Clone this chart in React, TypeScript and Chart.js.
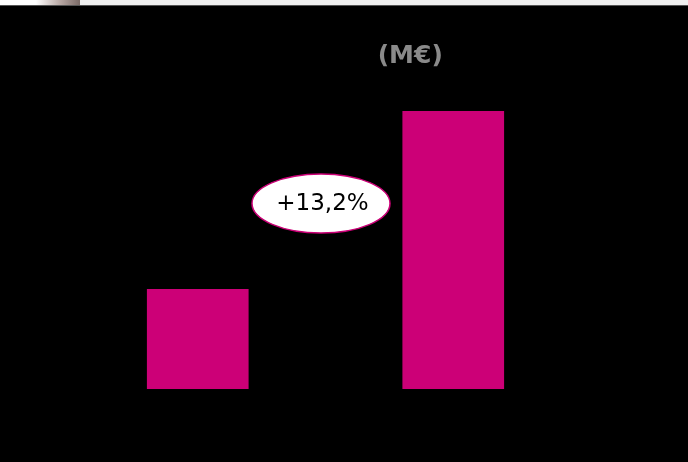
import React, { useEffect, useRef } from "react";
import { Chart, registerables } from "chart.js";

Chart.register(...registerables);

const categories: string[] = ["Année N-1", "Année N"];
const values: number[] = [100, 113.2];
const growthLabel = "+13,2%";
const unitLabel = "(M€)";

const BAR_COLOR = "#cc0077";

const overlayPlugin = {
  id: "overlay",
  afterDraw(chart: any) {
    const ctx = chart.ctx as CanvasRenderingContext2D;
    const x = chart.scales.x;
    const y = chart.scales.y;
    const x0 = x.getPixelForValue(0);
    const x1 = x.getPixelForValue(1);
    const cx = (x0 + x1) / 2 - 4.5;
    const cy = y.getPixelForValue(values[0]) - 85.5;
    ctx.save();
    ctx.beginPath();
    ctx.ellipse(cx, cy, 69, 29.5, 0, 0, Math.PI * 2);
    ctx.fillStyle = "#ffffff";
    ctx.fill();
    ctx.lineWidth = 1.5;
    ctx.strokeStyle = BAR_COLOR;
    ctx.stroke();
    ctx.fillStyle = "#000000";
    ctx.font = "23px 'DejaVu Sans'";
    ctx.textAlign = "center";
    ctx.textBaseline = "middle";
    ctx.fillText(growthLabel, cx + 1.5, cy + 1);
    ctx.fillStyle = "#8a8a8a";
    ctx.font = "bold 25px 'DejaVu Sans'";
    ctx.fillText(unitLabel, x1 - 43, 56);
    ctx.restore();
  },
};

export default function App() {
  const ref = useRef<HTMLCanvasElement | null>(null);
  useEffect(() => {
    if (!ref.current) return;
    const chart = new Chart(ref.current, {
      type: "bar",
      data: {
        labels: categories,
        datasets: [
          {
            data: values,
            backgroundColor: BAR_COLOR,
            borderWidth: 0,
            barPercentage: 1,
            categoryPercentage: 0.398,
          },
        ],
      },
      options: {
        animation: false,
        responsive: false,
        maintainAspectRatio: false,
        layout: { padding: { left: 70, right: 107, top: 111, bottom: 73 } },
        plugins: { legend: { display: false }, tooltip: { enabled: false }, title: { display: false } },
        scales: {
          x: { display: false, offset: true },
          y: { display: false, min: 92.58, max: 113.2 },
        },
      },
      plugins: [overlayPlugin],
    });
    return () => chart.destroy();
  }, []);
  return (
    <div style={{ position: "fixed", left: 0, top: 0, width: 688, height: 462, background: "#000", overflow: "hidden" }}>
      <div style={{ position: "absolute", left: 0, top: 0, width: 688, height: 5, background: "#f0f0f0", borderBottom: "1px solid #555" }} />
      <div style={{ position: "absolute", left: 0, top: 0, width: 80, height: 5, background: "linear-gradient(to right, #ffffff 0%, #ffffff 45%, #b8a8a4 75%, #7a6a66 100%)" }} />
      <canvas ref={ref} width={688} height={462} style={{ position: "absolute", left: 0, top: 0, width: 688, height: 462 }} />
    </div>
  );
}
